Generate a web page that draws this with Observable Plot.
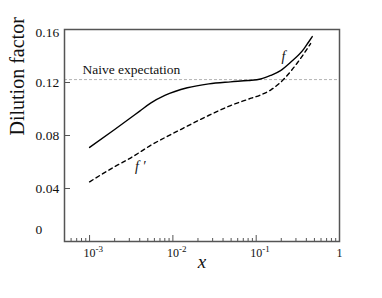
<!DOCTYPE html>
<html>
<head>
<meta charset="utf-8">
<script src="https://cdn.jsdelivr.net/npm/d3@7"></script>
<script src="https://cdn.jsdelivr.net/npm/@observablehq/plot@0.6"></script>
<style>
  html, body { margin: 0; padding: 0; background: #fff; }
  svg text { font-family: "Liberation Serif", "Times New Roman", serif; }
</style>
</head>
<body>
<div id="chart"></div>
<script>
// ---- data ----
const fX      = [0.001, 0.002, 0.003, 0.004, 0.0054, 0.008, 0.0149, 0.027, 0.0493, 0.08, 0.113, 0.149, 0.196, 0.259, 0.374, 0.42, 0.471];
const fY      = [0.0710, 0.0845, 0.0926, 0.0984, 0.1044, 0.1102, 0.1160, 0.1190, 0.1205, 0.1215, 0.1226, 0.1253, 0.1290, 0.1353, 0.1454, 0.1500, 0.1547];
const fpX     = [0.001, 0.002, 0.0031, 0.0054, 0.0124, 0.0268, 0.0493, 0.0788, 0.113, 0.149, 0.215, 0.311, 0.45];
const fpY     = [0.0450, 0.0565, 0.0630, 0.0725, 0.0845, 0.0951, 0.1026, 0.1072, 0.1106, 0.1143, 0.1226, 0.1347, 0.1494];
const naive   = 0.1222;
const naiveLabel = "Naive expectation";
const xMajor  = [0.001, 0.01, 0.1, 1];
const xMajorLabels = ["10^-3", "10^-2", "10^-1", "1"];
const xMinor  = [5e-4, 6e-4, 7e-4, 8e-4, 9e-4,
                 2e-3, 3e-3, 4e-3, 5e-3, 6e-3, 7e-3, 8e-3, 9e-3,
                 2e-2, 3e-2, 4e-2, 5e-2, 6e-2, 7e-2, 8e-2, 9e-2,
                 0.2, 0.3, 0.4, 0.5, 0.6, 0.7, 0.8, 0.9];
const yTicks  = [0, 0.04, 0.08, 0.12, 0.16];
const yTickLabels = ["0", "0.04", "0.08", "0.12", "0.16"];
const curveLabels = [
  {x: 0.213, y: 0.1396, text: "f"},
  {x: 0.00406, y: 0.0566, text: "f \u2032"}
];

const fData  = fX.map((x, i) => ({x, y: fY[i]}));
const fpData = fpX.map((x, i) => ({x, y: fpY[i]}));
const xLab   = xMajor.map((v, i) => ({v, t: xMajorLabels[i]}));
const yLab   = yTicks.map((v, i) => ({v, t: yTickLabels[i]}));

const W = 382, H = 298, mL = 64, mR = 43, mT = 29, mB = 57;
const plotW = W - mL - mR, plotH = H - mT - mB;
const ink = "#555";
const serif = "'Liberation Serif', 'Times New Roman', serif";
const svgns = "http://www.w3.org/2000/svg";

function superscript(index, scales, values, dims, ctx, next) {
  const g = next(index, scales, values, dims, ctx);
  for (const t of g.querySelectorAll("text")) {
    const parts = t.textContent.split("^");
    if (parts.length < 2) continue;
    t.textContent = "";
    t.setAttribute("text-anchor", "start");
    const b = document.createElementNS(svgns, "tspan");
    b.setAttribute("dx", "-6");
    b.textContent = parts[0];
    const e = document.createElementNS(svgns, "tspan");
    e.setAttribute("dy", "-5");
    e.setAttribute("font-size", "9");
    e.textContent = parts[1];
    t.append(b, e);
  }
  return g;
}

const chart = Plot.plot({
  width: W, height: H,
  marginLeft: mL, marginRight: mR, marginTop: mT, marginBottom: mB,
  style: {fontFamily: serif, background: "#fff", color: "#000"},
  x: {type: "log", domain: [0.0005, 1], axis: null},
  y: {domain: [0, 0.16], axis: null},
  marks: [
    // naive expectation
    Plot.ruleY([naive], {stroke: "#aaa", strokeWidth: 0.9, strokeDasharray: "3,2"}),
    Plot.text([naive], {y: d => d, text: () => naiveLabel, frameAnchor: "left", dx: 18, dy: -10, textAnchor: "start", fontSize: 13.5, fontFamily: serif, fill: "#111"}),
    // curves
    Plot.line(fData, {x: "x", y: "y", stroke: "#000", strokeWidth: 1.4, curve: "monotone-x"}),
    Plot.line(fpData, {x: "x", y: "y", stroke: "#000", strokeWidth: 1.4, strokeDasharray: "4,3.5", curve: "monotone-x"}),
    Plot.text(curveLabels, {x: "x", y: "y", text: "text", fontSize: 14, fontStyle: "italic", fontFamily: serif, fill: "#111"}),
    // frame and inward ticks
    Plot.frame({stroke: ink, strokeWidth: 1.5}),
    Plot.tickX(xMajor, {x: d => d, stroke: ink, strokeWidth: 1, insetTop: plotH - 6}),
    Plot.tickX(xMinor, {x: d => d, stroke: ink, strokeWidth: 1, insetTop: plotH - 3}),
    Plot.tickY(yTicks.slice(1, -1), {y: d => d, stroke: ink, strokeWidth: 1, insetRight: plotW - 6}),
    // x tick labels
    Plot.text(xLab, {x: "v", text: "t", frameAnchor: "bottom", dy: 15, fontSize: 12, fontFamily: serif, fill: "#111", render: superscript}),
    // y tick labels
    Plot.text(yLab.filter(d => d.v > 0 && d.v < 0.16), {y: "v", text: "t", frameAnchor: "left", dx: -29, textAnchor: "start", fontSize: 13.5, fontFamily: serif, fill: "#111"}),
    Plot.text(yLab.filter(d => d.v === 0.16), {y: "v", text: "t", frameAnchor: "left", dx: -29, dy: 3, textAnchor: "start", fontSize: 13.5, fontFamily: serif, fill: "#111"}),
    Plot.text(yLab.filter(d => d.v === 0), {y: "v", text: "t", frameAnchor: "left", dx: -29, dy: -12, textAnchor: "start", fontSize: 13.5, fontFamily: serif, fill: "#111"}),
    // axis titles
    Plot.text(["Dilution factor"], {text: d => d, frameAnchor: "left", dx: -47, rotate: -90, fontSize: 20, fontFamily: serif, fill: "#111"}),
    Plot.text(["x"], {text: d => d, frameAnchor: "bottom", dy: 26, fontSize: 19, fontStyle: "italic", fontFamily: serif, fill: "#111"})
  ]
});
document.getElementById("chart").append(chart);
</script>
</body>
</html>
